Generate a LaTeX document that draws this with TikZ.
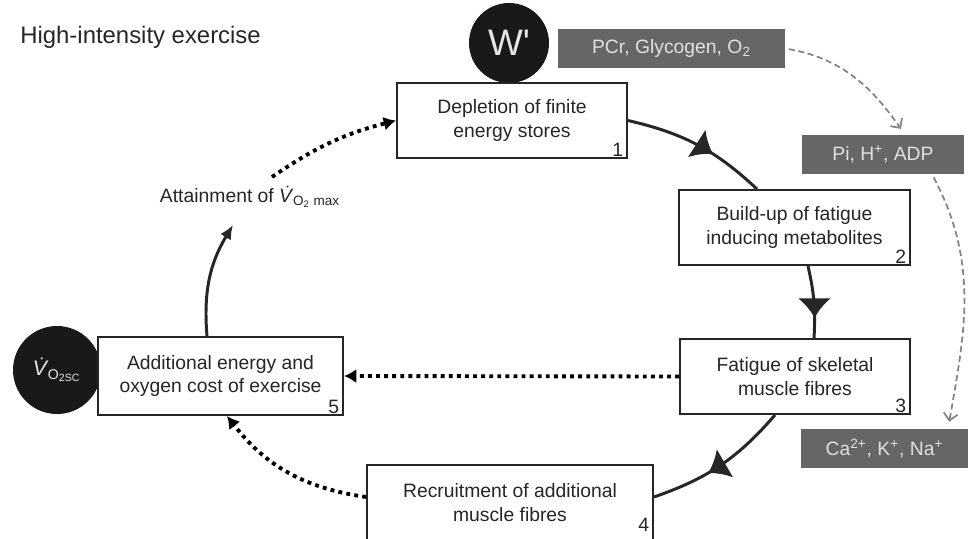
\documentclass[tikz,border=0pt]{standalone}
\usepackage{fontspec}
\setmainfont{Liberation Sans}
\usepackage{tikz}
\usetikzlibrary{positioning}
\usetikzlibrary{arrows.meta}
\usetikzlibrary{decorations.markings}

\definecolor{boxgray}{HTML}{666666}
\definecolor{dashgray}{HTML}{858585}
\definecolor{inkgray}{HTML}{262626}

\newcommand{\vdt}{\textit{\.{V}}}

\begin{document}
\begin{tikzpicture}[
    stage/.style={draw=inkgray, line width=1.1pt, fill=white, text=inkgray, align=center,
      minimum width=4.6cm, minimum height=1.5cm, font=\fontsize{11}{13.6}\selectfont},
    num/.style={anchor=south east, inner xsep=2.5pt, inner ysep=1pt, text=inkgray,
      font=\fontsize{11}{13}\selectfont},
    chem/.style={fill=boxgray, text=white!88!black, minimum height=0.78cm,
      font=\fontsize{11}{13}\selectfont},
    blob/.style={circle, fill=black!90, text=white!90!black, inner sep=0pt},
    cyclearrow/.style={line width=1.7pt, inkgray},
    midarrow/.style={postaction={decorate, decoration={markings,
      mark=at position #1 with {\arrow{Latex[length=11pt,width=19pt]}}}}},
    dotarrow/.style={line width=2.2pt, black, dash pattern=on 2.2pt off 2.4pt,
      -{Latex[length=7pt,width=8pt]}},
    gasarrow/.style={line width=1pt, dashgray, dash pattern=on 3.5pt off 2pt,
      -{Straight Barb[length=4pt,width=8pt]}, shorten <=2pt, shorten >=4pt}]

  \useasboundingbox (0,0) rectangle (19.48,-10.76);
  \clip (0,0) rectangle (19.48,-10.76);

  \node [anchor=west, inner sep=0pt, text=inkgray, font=\fontsize{13.6}{16}\selectfont] at (0.4,-0.74) (title) { High-intensity exercise };

  \node [blob, minimum size=1.6cm, font=\fontsize{21}{24}\selectfont] at (10.18,-0.86) (wp) { W\textquotesingle };
  \node [blob, minimum size=1.76cm, font=\fontsize{12}{14}\selectfont] at (1.14,-7.4) (vsc) { \vdt\textsubscript{O\textsubscript{2SC}} };

  \node [stage] at (10.24,-2.41) (b1) { Depletion of finite\\energy stores };
  \node [stage, minimum width=4.62cm] at (15.89,-4.55) (b2) { Build-up of fatigue\\inducing metabolites };
  \node [stage] at (15.9,-7.53) (b3) { Fatigue of skeletal\\muscle fibres };
  \node [stage, minimum width=5.72cm, minimum height=1.52cm] at (10.2,-10.06) (b4) { Recruitment of additional\\muscle fibres };
  \node [stage, minimum width=4.9cm, minimum height=1.56cm] at (4.41,-7.52) (b5) { Additional energy and\\oxygen cost of exercise };

  \node [num] at (b1.south east) (n1) { 1 };
  \node [num] at (b2.south east) (n2) { 2 };
  \node [num] at (b3.south east) (n3) { 3 };
  \node [num, yshift=4.5pt] at (b4.south east) (n4) { 4 };
  \node [num] at (b5.south east) (n5) { 5 };

  \node [chem, minimum width=4.54cm] at (13.43,-0.97) (pcr) { PCr, Glycogen, O\textsubscript{2} };
  \node [chem, minimum width=3.24cm] at (17.66,-3.09) (pi) { Pi, H\textsuperscript{+}, ADP };
  \node [chem, minimum width=3.34cm] at (17.69,-8.97) (ca) { Ca\textsuperscript{2+}, K\textsuperscript{+}, Na\textsuperscript{+} };

  \node [text=inkgray, font=\fontsize{11}{13}\selectfont] at (5.0,-3.94) (att) { Attainment of \vdt\textsubscript{O\textsubscript{2} max} };
  \coordinate (atttip) at (4.66,-4.5);
  \coordinate (attfoot) at (5.44,-3.54);

  \draw [cyclearrow, midarrow=0.62] (b1.east) to [bend left=15] ([xshift=-0.75cm]b2.north);
  \draw [cyclearrow, midarrow=0.72] ([xshift=0.27cm]b2.south) to [bend left=8] ([xshift=0.38cm]b3.north);
  \draw [cyclearrow, midarrow=0.6] ([xshift=-0.4cm]b3.south) to [bend left=15] ([yshift=0.12cm]b4.east);
  \draw [cyclearrow, -{Latex[length=8pt,width=7pt]}] ([xshift=-0.27cm]b5.north) to [bend left=18] (atttip);

  \draw [dotarrow] (b3.west) -- (b5.east);
  \draw [dotarrow] ([yshift=0.12cm]b4.west) to [bend left=22] ([xshift=0.13cm]b5.south);
  \draw [dotarrow] (attfoot) to [bend left=10] (b1.west);

  \draw [gasarrow] (pcr.east) to [out=-10, in=125] ([xshift=0.44cm]pi.north);
  \draw [gasarrow] ([xshift=0.98cm]pi.south) to [out=-62, in=80] ([xshift=1.27cm]ca.north);
\end{tikzpicture}
\end{document}
